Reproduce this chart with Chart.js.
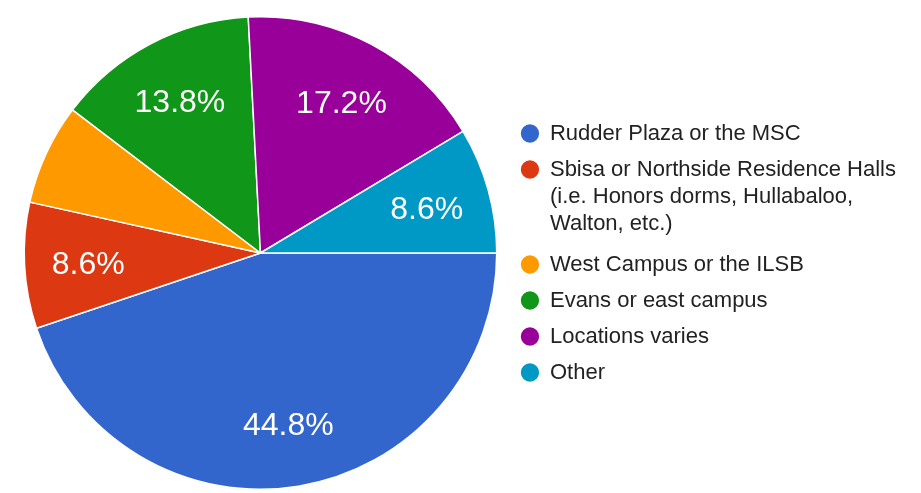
<!DOCTYPE html>
<html>
<head>
<meta charset="utf-8">
<script src="https://cdn.jsdelivr.net/npm/chart.js@4/dist/chart.umd.min.js"></script>
<style>
  html, body { margin: 0; padding: 0; background: #fff; }
  #wrap { width: 921px; height: 493px; position: relative; }
</style>
</head>
<body>
<div id="wrap"><canvas id="chart"></canvas></div>
<script>
// Where students usually meet: share of responses per location (%)
const locations = [
  'Rudder Plaza or the MSC',
  ['Sbisa or Northside Residence Halls', '(i.e. Honors dorms, Hullabaloo,', 'Walton, etc.)'],
  'West Campus or the ILSB',
  'Evans or east campus',
  'Locations varies',
  'Other'
];
const shares = [44.8, 8.6, 6.9, 13.8, 17.2, 8.6];
const sliceColors = ['#3366cc', '#dc3912', '#ff9900', '#109618', '#990099', '#0099c6'];

// Writes the percentage inside each slice that is large enough to hold it
const sliceLabels = {
  id: 'sliceLabels',
  afterDatasetsDraw(chart) {
    const ctx = chart.ctx;
    const meta = chart.getDatasetMeta(0);
    const values = chart.data.datasets[0].data;
    ctx.save();
    ctx.fillStyle = '#ffffff';
    ctx.font = '32px "Liberation Sans", Arial, sans-serif';
    ctx.textAlign = 'center';
    ctx.textBaseline = 'middle';
    meta.data.forEach((arc, i) => {
      const v = values[i];
      if (v < 7.5) return;
      const p = arc.getProps(['x', 'y', 'startAngle', 'endAngle', 'outerRadius'], true);
      const mid = (p.startAngle + p.endAngle) / 2;
      const r = p.outerRadius * 0.73;
      ctx.fillText(v.toFixed(1) + '%', p.x + Math.cos(mid) * r, p.y + Math.sin(mid) * r + 3);
    });
    ctx.restore();
  }
};

new Chart(document.getElementById('chart'), {
  type: 'pie',
  data: {
    labels: locations,
    datasets: [{
      data: shares,
      backgroundColor: sliceColors,
      borderColor: '#ffffff',
      borderWidth: 1.5
    }]
  },
  options: {
    responsive: true,
    maintainAspectRatio: false,
    animation: false,
    rotation: 90,
    layout: { padding: { left: 14, right: 15, top: 16, bottom: 3 } },
    plugins: {
      tooltip: { enabled: false },
      legend: {
        position: 'right',
        labels: {
          usePointStyle: true,
          pointStyle: 'circle',
          boxWidth: 18,
          boxHeight: 14,
          padding: 14,
          color: '#222222',
          font: { family: '"Liberation Sans", Arial, sans-serif', size: 22, lineHeight: 1.227 }
        }
      }
    }
  },
  plugins: [sliceLabels]
});
</script>
</body>
</html>
